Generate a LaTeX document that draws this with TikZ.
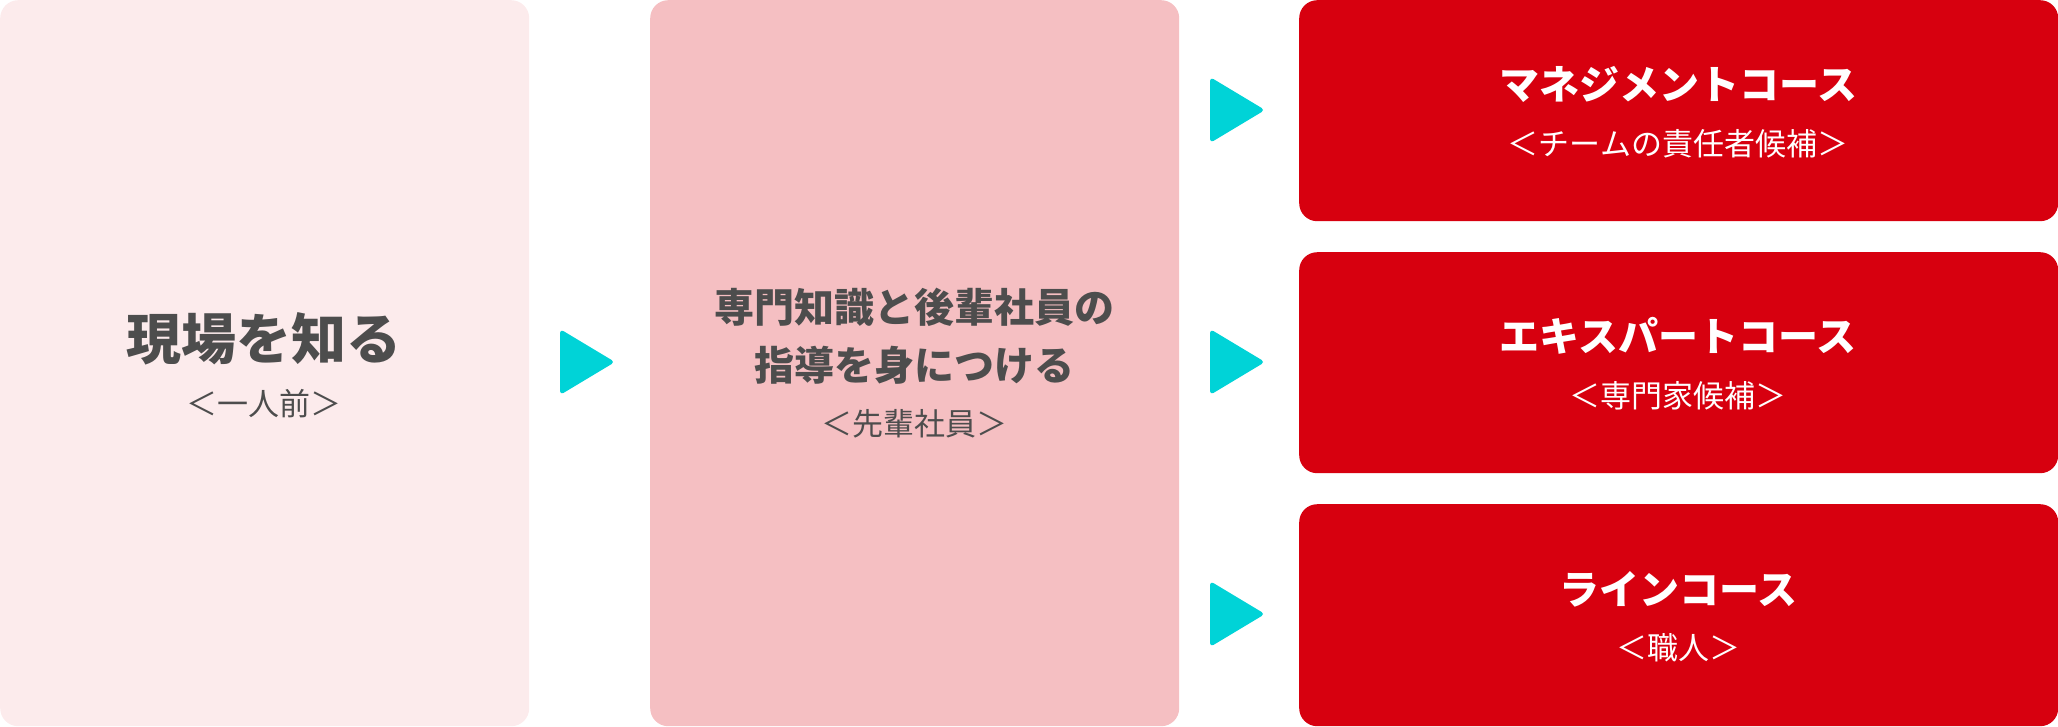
\documentclass[tikz,border=0pt]{standalone}
\usepackage{fontspec}
\newfontfamily\jpfont{Noto Sans CJK JP}
\definecolor{palepink}{HTML}{FCEBEC}
\definecolor{rosepink}{HTML}{F5BFC2}
\definecolor{courseRed}{HTML}{D7000F}
\definecolor{markCyan}{HTML}{00D3D7}
\definecolor{inkGray}{HTML}{4D4D4D}
\tikzset{
  stagebox/.style={rectangle, rounded corners=18pt, inner sep=0pt, anchor=north west},
  headtext/.style={font=\jpfont\bfseries\fontsize{#1}{#1}\selectfont, align=center, inner sep=0pt},
  subtext/.style={font=\jpfont\fontsize{31}{31}\selectfont, inner sep=0pt},
  playmark/.style={fill=markCyan, rounded corners=4pt}
}
\begin{document}
\begin{tikzpicture}[x=1pt,y=-1pt]
\useasboundingbox (0,0) rectangle (2058,726);
% stage boxes
\node[stagebox, fill=palepink, minimum width=529pt, minimum height=726pt] at (0,0) (genba) {};
\node[stagebox, fill=rosepink, minimum width=529pt, minimum height=726pt] at (650,0) (senpai) {};
\node[stagebox, fill=courseRed, minimum width=759pt, minimum height=221pt] at (1299,0) (mgmt) {};
\node[stagebox, fill=courseRed, minimum width=759pt, minimum height=221pt] at (1299,252) (expert) {};
\node[stagebox, fill=courseRed, minimum width=759pt, minimum height=222pt] at (1299,504) (line) {};

% texts
\node[headtext=55, text=inkGray] at (264,339) (genbaT) {現場を知る};
\node[subtext, text=inkGray] at (264,404) (genbaS) {＜一人前＞};
\node[headtext=40, text=inkGray] at (914,307) (senpaiT1) {専門知識と後輩社員の};
\node[headtext=40, text=inkGray] at (914,365) (senpaiT2) {指導を身につける};
\node[subtext, text=inkGray] at (914,424) (senpaiS) {＜先輩社員＞};

\node[headtext=40, text=white] at (1678,84) (mgmtT) {マネジメントコース};
\node[subtext, text=white] at (1678,144) (mgmtS) {＜チームの責任者候補＞};
\node[headtext=40, text=white] at (1678,336) (expertT) {エキスパートコース};
\node[subtext, text=white] at (1678,396) (expertS) {＜専門家候補＞};
\node[headtext=40, text=white] at (1678,589) (lineT) {ラインコース};
\node[subtext, text=white] at (1678,648) (lineS) {＜職人＞};

% arrow marks
\fill[playmark] (560,329) -- (615,362) -- (560,395) -- cycle;
\foreach \y in {110,362,614}
  \fill[playmark] (1210,\y-33) -- (1265,\y) -- (1210,\y+33) -- cycle;
\end{tikzpicture}
\end{document}
